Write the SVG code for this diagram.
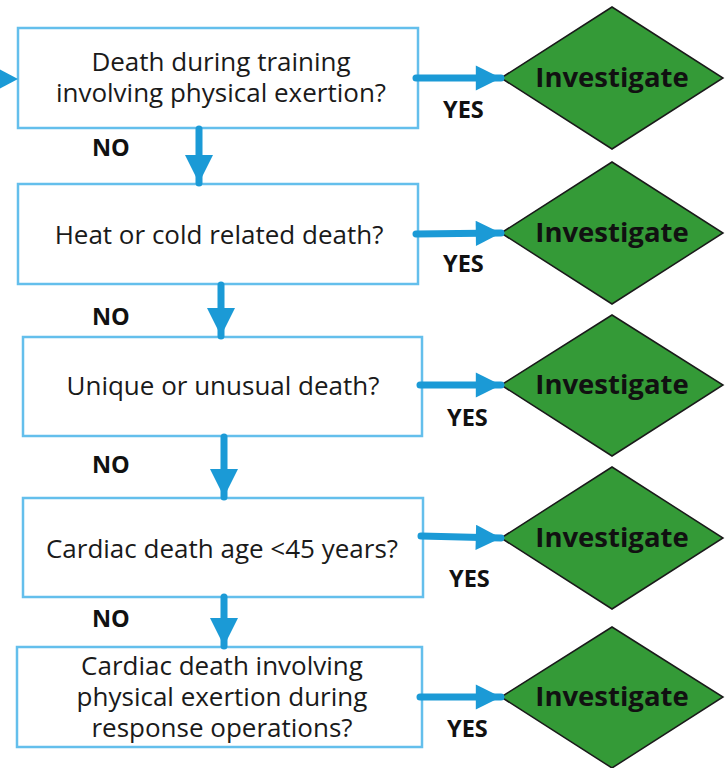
<svg xmlns="http://www.w3.org/2000/svg" width="725" height="768" viewBox="0 0 725 768">
  <defs>
    <marker id="head" viewBox="0 0 10 10" refX="10" refY="5" markerWidth="4.4" markerHeight="3.6" markerUnits="strokeWidth" orient="auto">
      <path d="M0,0 L10,5 L0,10 Z" fill="#1b9ad6"/>
    </marker>
    <marker id="headV" viewBox="0 0 10 10" refX="10" refY="5" markerWidth="4" markerHeight="4" markerUnits="strokeWidth" orient="auto">
      <path d="M0,0 L10,5 L0,10 Z" fill="#1b9ad6"/>
    </marker>
    <style>
      .box { fill: #ffffff; stroke: #64bfec; stroke-width: 2.5; }
      .q { font-family: "Open Sans", "Noto Sans", sans-serif; font-size: 26px; fill: #1a1a1a; text-anchor: middle; }
      .dia { fill: #349a37; stroke: #1a1a1a; stroke-width: 1.5; }
      .inv { font-family: "Open Sans", "Noto Sans", sans-serif; font-size: 27.5px; font-weight: bold; fill: #111111; text-anchor: middle; }
      .lbl { font-family: "Open Sans", "Noto Sans", sans-serif; font-size: 23.5px; font-weight: bold; fill: #111111; }
      .yes { stroke: #1b9ad6; stroke-width: 7; stroke-linecap: round; fill: none; marker-end: url(#head); }
      .no { stroke: #1b9ad6; stroke-width: 7; stroke-linecap: round; fill: none; marker-end: url(#headV); }
    </style>
  </defs>

  <!-- question boxes -->
  <g id="q1">
    <rect class="box" x="18" y="28" width="400" height="100"/>
    <text class="q" x="221" y="71">Death during training<tspan x="221" dy="31">involving physical exertion?</tspan></text>
  </g>
  <g id="q2">
    <rect class="box" x="18" y="184" width="400" height="100"/>
    <text class="q" x="219" y="244">Heat or cold related death?</text>
  </g>
  <g id="q3">
    <rect class="box" x="23" y="337" width="399" height="99"/>
    <text class="q" x="223" y="395">Unique or unusual death?</text>
  </g>
  <g id="q4">
    <rect class="box" x="23" y="498" width="400" height="99"/>
    <text class="q" x="222" y="558">Cardiac death age &lt;45 years?</text>
  </g>
  <g id="q5">
    <rect class="box" x="17" y="647" width="405" height="100"/>
    <text class="q" x="222" y="675">Cardiac death involving<tspan x="222" dy="31">physical exertion during</tspan><tspan x="222" dy="31">response operations?</tspan></text>
  </g>

  <!-- outcome diamonds -->
  <g id="d1">
    <polygon class="dia" points="612,7 723,78 612,149 501,78"/>
    <text class="inv" x="612" y="87">Investigate</text>
  </g>
  <g id="d2">
    <polygon class="dia" points="612,162 723,233 612,304 501,233"/>
    <text class="inv" x="612" y="242">Investigate</text>
  </g>
  <g id="d3">
    <polygon class="dia" points="612,315 723,385 612,456 501,385"/>
    <text class="inv" x="612" y="394">Investigate</text>
  </g>
  <g id="d4">
    <polygon class="dia" points="612,467 723,538 612,609 501,538"/>
    <text class="inv" x="612" y="547">Investigate</text>
  </g>
  <g id="d5">
    <polygon class="dia" points="612,627 723,697 612,768 501,697"/>
    <text class="inv" x="612" y="706">Investigate</text>
  </g>

  <!-- connectors -->
  <g id="connectors">
    <polygon points="-12,63 18,79 -12,95" fill="#1b9ad6"/>

    <path class="yes" d="M416,78 L501,78"/>
    <path class="yes" d="M416,234 L501,233"/>
    <path class="yes" d="M420,385 L501,385"/>
    <path class="yes" d="M421,536 L501,538"/>
    <path class="yes" d="M420,697 L501,697"/>

    <path class="no" d="M199,129 L199,183"/>
    <path class="no" d="M221,285 L221,336"/>
    <path class="no" d="M224,437 L224,497"/>
    <path class="no" d="M224,597 L224,646"/>

    <text class="lbl" x="443" y="118">YES</text>
    <text class="lbl" x="443" y="272">YES</text>
    <text class="lbl" x="447" y="426">YES</text>
    <text class="lbl" x="449" y="587">YES</text>
    <text class="lbl" x="447" y="737">YES</text>

    <text class="lbl" x="92" y="156">NO</text>
    <text class="lbl" x="92" y="325">NO</text>
    <text class="lbl" x="92" y="473">NO</text>
    <text class="lbl" x="92" y="627">NO</text>
  </g>
</svg>
